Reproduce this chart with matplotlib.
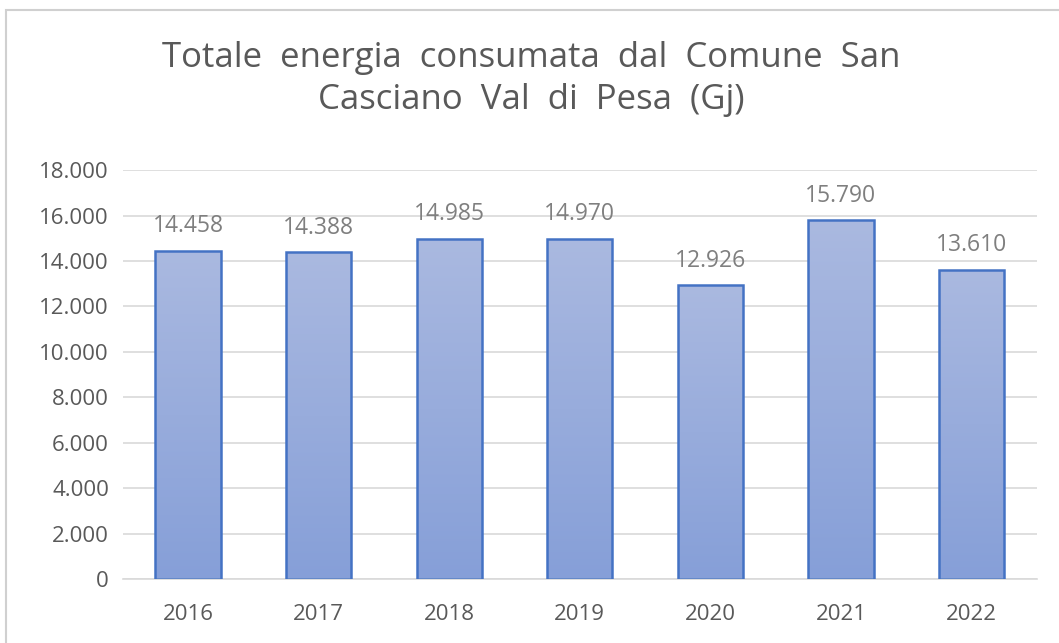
import matplotlib.pyplot as plt
import numpy as np
from matplotlib.patches import Rectangle

plt.rcParams['font.family'] = ['Open Sans', 'DejaVu Sans']

years = ['2016', '2017', '2018', '2019', '2020', '2021', '2022']
energy_gj = [14458, 14388, 14985, 14970, 12926, 15790, 13610]
value_labels = ['14.458', '14.388', '14.985', '14.970', '12.926', '15.790', '13.610']
y_ticks = [0, 2000, 4000, 6000, 8000, 10000, 12000, 14000, 16000, 18000]
y_tick_labels = ['0', '2.000', '4.000', '6.000', '8.000', '10.000', '12.000',
                 '14.000', '16.000', '18.000']

fig = plt.figure(figsize=(10.59, 6.43), dpi=100)
ax = fig.add_axes([0.116, 0.0995, 0.863, 0.636])

# light frame round the chart
fig.patches.append(Rectangle((6 / 1059, -0.05), 1.1, 1 - 10 / 643 + 0.05,
                             transform=fig.transFigure, fill=False,
                             edgecolor='#d0d0d0', linewidth=1.5))

x = np.arange(len(years))
bars = ax.bar(x, energy_gj, width=0.5, color='none', edgecolor='#4472c4',
              linewidth=1.8, zorder=3)

# vertical gradient inside each bar
grad = np.linspace(0, 1, 256).reshape(-1, 1)
top = np.array([0xaa, 0xb9, 0xe0]) / 255
bottom = np.array([0x86, 0x9f, 0xd8]) / 255
img = (bottom + (top - bottom) * grad[:, :, None]) * np.ones((256, 1, 3))
for b in bars:
    x0, w, h = b.get_x(), b.get_width(), b.get_height()
    im = ax.imshow(img, extent=[x0, x0 + w, 0, h], origin='lower',
                   aspect='auto', zorder=2)
    im.set_clip_path(b)

for xi, v, lab in zip(x, energy_gj, value_labels):
    ax.text(xi, v + 550, lab, ha='center', va='bottom', fontsize=16.5,
            color='#7f7f7f')

ax.set_xlim(-0.5, len(years) - 0.5)
ax.set_ylim(0, 18000)
ax.set_yticks(y_ticks)
ax.set_yticklabels(y_tick_labels)
ax.set_xticks(x)
ax.set_xticklabels(years)
ax.tick_params(axis='both', length=0, labelsize=16, colors='#595959')
ax.tick_params(axis='x', pad=18)
ax.tick_params(axis='y', pad=10)
ax.grid(axis='y', color='#d9d9d9', linewidth=1.2, zorder=0)
ax.set_axisbelow(True)
for s in ['top', 'right', 'left']:
    ax.spines[s].set_visible(False)
ax.spines['bottom'].set_color('#d9d9d9')
ax.spines['bottom'].set_linewidth(1.2)

fig.text(0.502, 0.877, 'Totale  energia  consumata  dal  Comune  San\nCasciano  Val  di  Pesa  (Gj)',
         ha='center', va='center', fontsize=25, color='#595959', linespacing=1.3)

plt.savefig('out.png', dpi=100)
